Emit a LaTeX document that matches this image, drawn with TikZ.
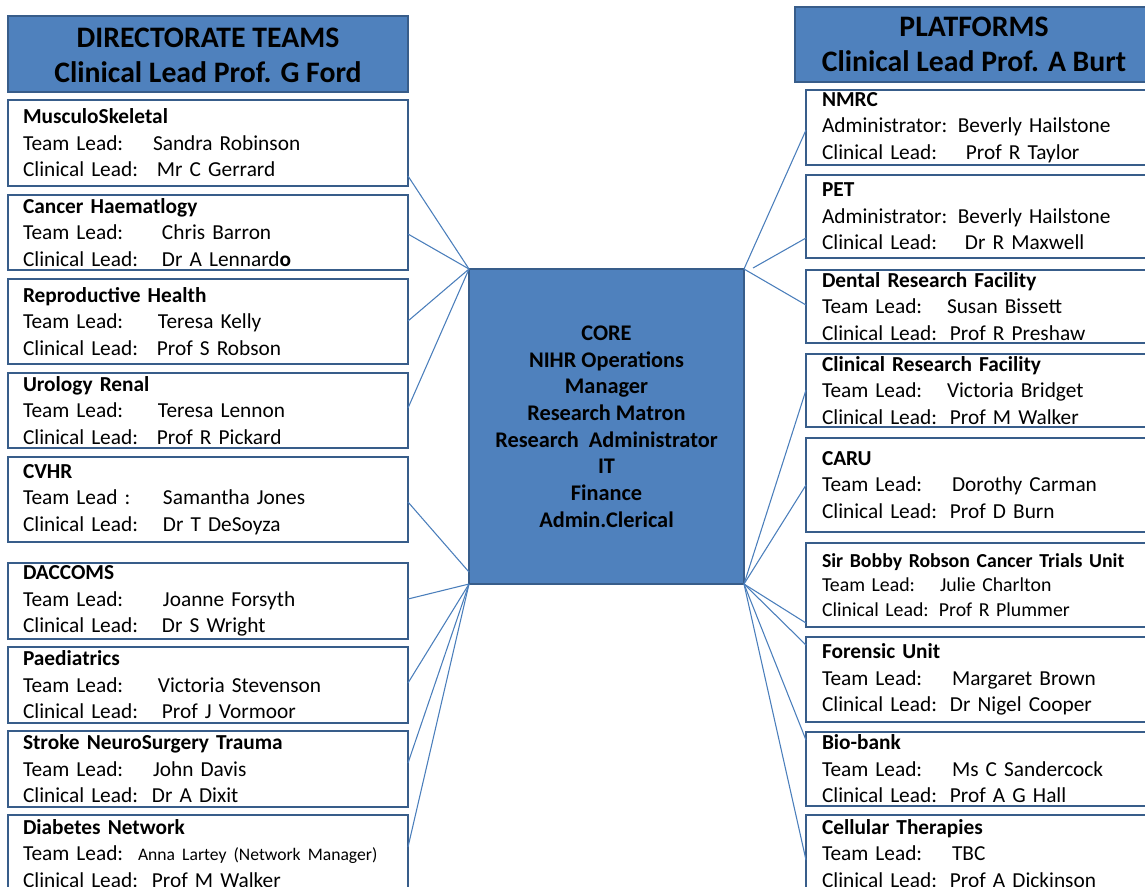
\documentclass[tikz,border=0pt]{standalone}
\usepackage{fontspec}
\setmainfont{Carlito}
\usepackage{xcolor}
\definecolor{azulCaja}{RGB}{79,129,189}
\definecolor{azulBorde}{RGB}{56,93,138}
\definecolor{azulLinea}{RGB}{74,126,187}
\usepackage{tikz}
\usetikzlibrary{positioning}
\tikzstyle{link}=[draw=azulLinea, line width=0.8pt]
\tikzstyle{team}=[draw=azulBorde, line width=2.2pt, fill=white,
                  anchor=north west, align=left, inner xsep=11.25pt,
                  inner ysep=0pt, outer sep=0pt, text width=277.5pt,
                  font=\fontsize{16}{19.9}\selectfont]
\tikzstyle{plat}=[team, inner xsep=12pt, text width=245.25pt]
\tikzstyle{head}=[draw=azulBorde, line width=2.2pt, fill=azulCaja,
                  anchor=north west, align=center, inner sep=0pt,
                  outer sep=0pt, font=\fontsize{22.3}{26.5}\selectfont\bfseries]
\newcommand{\lead}[3]{\makebox[\dimexpr0.75pt*#1\relax][l]{#2}#3}

\begin{document}
\begin{tikzpicture}[x=0.75pt,y=-0.75pt]
    \useasboundingbox (0,0) rectangle (1145,886);

    % directorate teams
    \node (dirhead) [head, minimum width=300pt, minimum height=57pt] at (8,16)
        {\rule{0pt}{17pt}DIRECTORATE TEAMS\\Clinical Lead Prof. G Ford};
    \node (mus) [team, minimum height=64.5pt] at (8,100)
        {\textbf{MusculoSkeletal}\\\lead{130}{Team Lead:}{Sandra Robinson}\\\lead{134}{Clinical Lead:}{Mr C Gerrard}};
    \node (can) [team, minimum height=56.25pt] at (8,195)
        {\textbf{Cancer Haematlogy}\\\lead{139}{Team Lead:}{Chris Barron}\\\lead{139}{Clinical Lead:}{Dr A Lennard\textbf{o}}};
    \node (rep) [team, minimum height=63.75pt] at (8,279)
        {\textbf{Reproductive Health}\\\lead{135}{Team Lead:}{Teresa Kelly}\\\lead{134}{Clinical Lead:}{Prof S Robson}};
    \node (uro) [team, minimum height=56.25pt] at (8,373)
        {\textbf{Urology Renal}\\\lead{135}{Team Lead:}{Teresa Lennon}\\\lead{134}{Clinical Lead:}{Prof R Pickard}};
    \node (cvhr) [team, minimum height=63.75pt] at (8,457)
        {\textbf{CVHR}\\\lead{140}{Team Lead :}{Samantha Jones}\\\lead{140}{Clinical Lead:}{Dr T DeSoyza}};
    \node (dac) [team, minimum height=57pt] at (8,563)
        {\textbf{DACCOMS}\\\lead{140}{Team Lead:}{Joanne Forsyth}\\\lead{139}{Clinical Lead:}{Dr S Wright}};
    \node (pae) [team, minimum height=57pt] at (8,647)
        {\textbf{Paediatrics}\\\lead{135}{Team Lead:}{Victoria Stevenson}\\\lead{139}{Clinical Lead:}{Prof J Vormoor}};
    \node (str) [team, minimum height=57pt] at (8,731)
        {\textbf{Stroke NeuroSurgery Trauma}\\\lead{130}{Team Lead:}{John Davis}\\\lead{129}{Clinical Lead:}{Dr A Dixit}};
    \node (dia) [team, minimum height=57.75pt] at (8,815)
        {\textbf{Diabetes Network}\\\lead{115}{Team Lead:}{{\fontsize{13.2}{14}\selectfont Anna Lartey (Network Manager)}}\\\lead{129}{Clinical Lead:}{Prof M Walker}};

    % core
    \node (core) [head, minimum width=206.25pt, minimum height=236.25pt,
        font=\fontsize{16.75}{20}\selectfont\bfseries] at (469,269)
        {CORE\\NIHR Operations\\Manager\\Research Matron\\Research\ \ Administrator\\IT\\Finance\\Admin.Clerical};

    % platforms
    \node (plathead) [head, minimum width=268.5pt, minimum height=56.25pt] at (795,7)
        {PLATFORMS\\Clinical Lead Prof. A Burt};
    \node (nmrc) [plat, minimum height=56.25pt] at (806,90)
        {\textbf{NMRC}\\Administrator: Beverly Hailstone\\\lead{144}{Clinical Lead:}{Prof R Taylor}};
    \node (pet) [plat, minimum height=62.25pt] at (806,175)
        {\textbf{PET}\\Administrator: Beverly Hailstone\\\lead{143}{Clinical Lead:}{Dr R Maxwell}};
    \node (den) [plat, minimum height=54.75pt] at (806,270)
        {\textbf{Dental Research Facility}\\\lead{125}{Team Lead:}{Susan Bissett}\\\lead{128}{Clinical Lead:}{Prof R Preshaw}};
    \node (crf) [plat, minimum height=54.75pt] at (806,354)
        {\textbf{Clinical Research Facility}\\\lead{125}{Team Lead:}{Victoria Bridget}\\\lead{128}{Clinical Lead:}{Prof M Walker}};
    \node (caru) [plat, minimum height=70.5pt] at (806,438)
        {\textbf{CARU}\\\lead{130}{Team Lead:}{Dorothy Carman}\\\lead{128}{Clinical Lead:}{Prof D Burn}};
    \node (sbr) [plat, minimum height=63pt, font=\fontsize{14.85}{18.4}\selectfont] at (806,543)
        {\textbf{Sir Bobby Robson Cancer Trials Unit}\\\lead{118}{Team Lead:}{Julie Charlton}\\\lead{117}{Clinical Lead:}{Prof R Plummer}};
    \node (foren) [plat, minimum height=63.75pt] at (806,637)
        {\textbf{Forensic Unit}\\\lead{130}{Team Lead:}{Margaret Brown}\\\lead{128}{Clinical Lead:}{Dr Nigel Cooper}};
    \node (bio) [plat, minimum height=55.5pt] at (806,732)
        {\textbf{Bio-bank}\\\lead{130}{Team Lead:}{Ms C Sandercock}\\\lead{128}{Clinical Lead:}{Prof A G Hall}};
    \node (cel) [plat, minimum height=57.75pt] at (806,815)
        {\textbf{Cellular Therapies}\\\lead{130}{Team Lead:}{TBC}\\\lead{128}{Clinical Lead:}{Prof A Dickinson}};

    % links
    \foreach \i/\j in {mus/76,can/39,rep/42,uro/35}
        \draw [link] ([yshift=-\j*0.75pt]\i.north east) -- (core.north west);
    \draw [link] ([yshift=-45*0.75pt]cvhr.north east) -- ([yshift=9pt]core.south west);
    \foreach \i/\j in {dac/36,pae/36,str/32,dia/32}
        \draw [link] ([yshift=-\j*0.75pt]\i.north east) -- (core.south west);

    \coordinate (petend) at ([xshift=6.75pt,yshift=0.75pt]core.north east);
    \draw [link] (core.north east) -- ([yshift=-40*0.75pt]nmrc.north west);
    \draw [link] (petend) -- ([yshift=-63*0.75pt]pet.north west);
    \draw [link] (core.north east) -- ([yshift=-35*0.75pt]den.north west);
    \foreach \i/\j in {crf/36,caru/47,sbr/80,foren/8,bio/8,cel/45}
        \draw [link] (core.south east) -- ([yshift=-\j*0.75pt]\i.north west);

\end{tikzpicture}
\end{document}
